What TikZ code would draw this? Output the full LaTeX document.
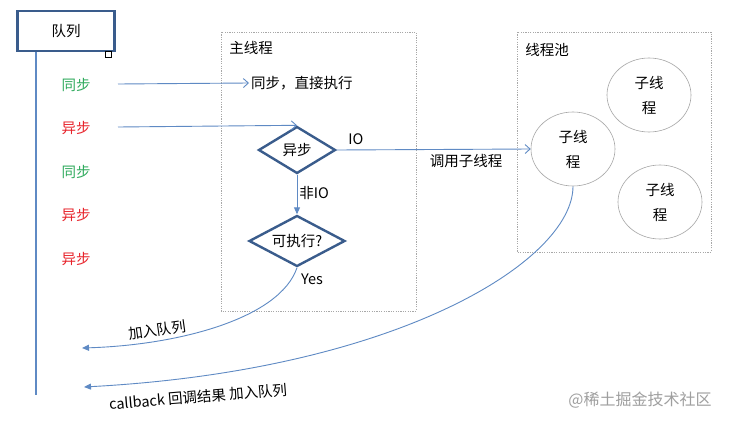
\documentclass[tikz,border=0pt]{standalone}
\usepackage{fontspec}
\setmainfont{Noto Sans CJK SC}
\usetikzlibrary{shapes.geometric,arrows.meta}
\definecolor{flow}{HTML}{5F8AC4}
\definecolor{frame}{HTML}{3A5C8C}
\definecolor{okgreen}{HTML}{2EAA5C}
\definecolor{badred}{HTML}{E8232B}
\definecolor{pool}{HTML}{A8A8A8}
\tikzset{
  txt/.style={font=\fontsize{14.5}{17}\selectfont, inner sep=2pt},
  flowline/.style={draw=flow, line width=0.9pt},
  openarrow/.style={flowline, -{Straight Barb[length=5pt,width=9pt,line width=0.9pt]}},
  fillarrow/.style={flowline, -{Triangle[length=7pt,width=6pt]}},
  decision/.style={diamond, draw=frame, line width=2.4pt, inner sep=0pt, txt},
  worker/.style={ellipse, draw=gray!70, line width=0.6pt, minimum width=84pt, minimum height=74pt, align=center, txt, font=\fontsize{14.5}{25}\selectfont},
  region/.style={draw=pool, line width=0.6pt, dash pattern=on 1.2pt off 1.2pt},
}
\begin{document}
\begin{tikzpicture}[x=1pt,y=-1pt]
\useasboundingbox (0,0) rectangle (734,423);
\fill[white] (0,0) rectangle (734,423);

% queue header and its timeline
\node[draw=frame, line width=2.6pt, minimum width=97pt, minimum height=40pt, txt] (queue) at (66,31) {队列};
\node[draw=black, line width=0.7pt, fill=white, minimum size=6pt, inner sep=0pt] (handle) at (108,54) {};
\coordinate (qend) at (36,395);
\draw[flowline, line width=1.2pt] (queue.south -| qend) -- (qend);

% tasks in the queue
\node[txt, text=okgreen] (t1) at (76,85) {同步};
\node[txt, text=badred] (t2) at (76,128) {异步};
\node[txt, text=okgreen] (t3) at (76,172) {同步};
\node[txt, text=badred] (t4) at (76,215) {异步};
\node[txt, text=badred] (t5) at (76,259) {异步};

% main thread
\draw[region] (221,32) rectangle (416,311);
\node[txt] (mainlbl) at (251,48) {主线程};
\node[txt, anchor=west] (direct) at (249,83) {同步，直接执行};
\node[decision, minimum width=77pt, minimum height=47pt, aspect=1.64] (async) at (297,150) {异步};
\node[decision, minimum width=96pt, minimum height=51pt, aspect=1.88] (exec) at (297,241) {可执行?};

% thread pool
\draw[region] (517,32) rectangle (711,252);
\node[txt] (poollbl) at (547,50) {线程池};
\node[worker] (w1) at (573,149) {子线\\程};
\node[worker] (w2) at (649,95) {子线\\程};
\node[worker] (w3) at (660,202) {子线\\程};

% connectors
\coordinate (s1) at (118,84);
\coordinate (s2) at (118,127);
\draw[openarrow] (s1) -- (direct.west);
\draw[openarrow] (s2) -- (async.north);
\draw[fillarrow] (async.south) -- node[txt, right, pos=0.45] (nonio) {非IO} (exec.north);
\draw[openarrow] (async.east) -- (w1.west);
\node[txt] (iolbl) at (356,139) {IO};
\node[txt] (calllbl) at (466,161) {调用子线程};

\coordinate (back1) at (82,348);
\coordinate (back2) at (84,387);
\draw[fillarrow] (exec.south) .. controls (280,318) and (180,345) .. (back1);
\node[txt] (yes) at (312,279) {Yes};
\node[txt, rotate=8] (enq1) at (157,330) {加入队列};
\draw[fillarrow] (w1.south) .. controls (573,260) and (400,370) .. (back2);
\node[txt, rotate=4.7] (enq2) at (198,397) {callback 回调结果 加入队列};

% watermark
\node[txt, text=gray!75, font=\fontsize{16}{19}\selectfont] (mark) at (640,400) {@稀土掘金技术社区};
\end{tikzpicture}
\end{document}
